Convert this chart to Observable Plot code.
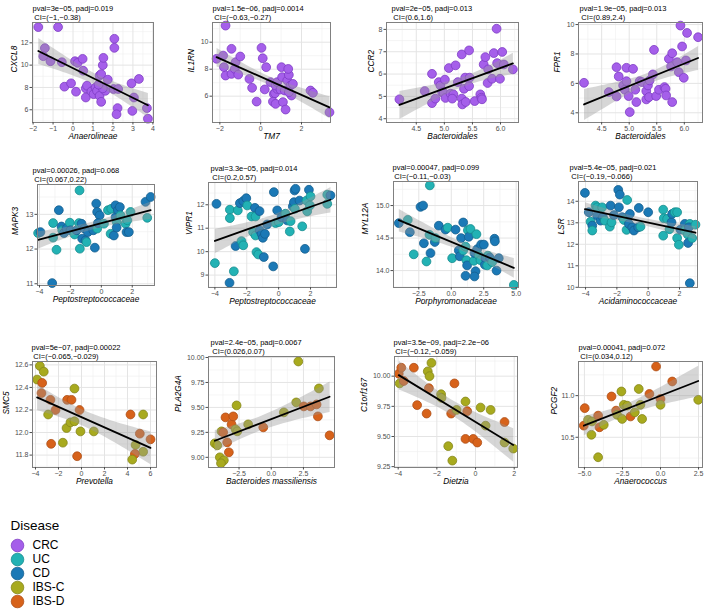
<!DOCTYPE html>
<html><head><meta charset="utf-8">
<script src="https://cdn.jsdelivr.net/npm/d3@7"></script>
<script src="https://cdn.jsdelivr.net/npm/@observablehq/plot@0.6"></script>
<style>
html,body{margin:0;padding:0;background:#fff;}
#chart{position:relative;width:706px;height:609px;overflow:hidden;background:#fff;}
#chart > svg{position:absolute;}
</style></head><body><div id="chart"></div>
<script>
const UC = "UC", CD = "CD", IC = "IBS-C", ID = "IBS-D";
const diseases = ["CRC", "UC", "CD", "IBS-C", "IBS-D"];
const genes = ["CXCL8","IL1RN","CCR2","FPR1","MAPK3","VIPR1","MYL12A","LSR","SMC5","PLA2G4A","C1orf167","PCGF2"];
const taxa = ["Anaerolineae","TM7","Bacteroidales","Bacteroidales","Peptostreptococcaceae","Peptostreptococcaceae","Porphyromonadaceae","Acidaminococcaceae","Prevotella","Bacteroides massiliensis","Dietzia","Anaerococcus"];
const pvalLabels = ["pval=3e\u221205, padj=0.019","pval=1.5e\u221206, padj=0.0014","pval=2e\u221205, padj=0.013","pval=1.9e\u221205, padj=0.013","pval=0.00026, padj=0.068","pval=3.3e\u221205, padj=0.014","pval=0.00047, padj=0.099","pval=5.4e\u221205, padj=0.021","pval=5e\u221207, padj=0.00022","pval=2.4e\u221205, padj=0.0067","pval=3.5e\u221209, padj=2.2e\u221206","pval=0.00041, padj=0.072"];
const ciLabels = ["CI=(\u22121,\u22120.38)","CI=(\u22120.63,\u22120.27)","CI=(0.6,1.6)","CI=(0.89,2.4)","CI=(0.067,0.22)","CI=(0.2,0.57)","CI=(\u22120.11,\u22120.03)","CI=(\u22120.19,\u22120.066)","CI=(\u22120.065,\u22120.029)","CI=(0.026,0.07)","CI=(\u22120.12,\u22120.059)","CI=(0.034,0.12)"];
const xTicks = [[-2,-1,0,1,2,3,4],[-2,0,2],[4.5,5,5.5,6],[4.5,5,5.5,6],[-4,-2,0,2],[-4,-2,0,2],[-2.5,0,2.5,5],[-4,-2,0,2],[-4,-2,0,2,4,6],[-2.5,0,2.5],[-4,-2,0,2],[-5,-2.5,0,2.5]];
const yTicks = [[6,8,10,12],[6,8,10],[4,5,6,7,8],[4,6,8,10],[11,12,13],[9,10,11,12],[14,14.5,15],[10,11,12,13,14],[11.8,12,12.2,12.4,12.6],[9,9.25,9.5,9.75,10],[9.25,9.5,9.75,10],[10.5,11]];

// panel 1 CXCL8 ~ Anaerolineae (CRC)
const xCXCL8 = [-1.74,-0.75,-1.41,-1.49,-1.13,-0.56,0.10,0.23,0.48,0.51,-0.43,-0.10,0.15,0.64,0.70,0.64,0.92,1.03,1.13,1.20,1.33,1.41,1.33,1.41,1.49,1.52,1.62,1.49,1.74,2.07,2.07,2.03,2.23,2.18,2.26,2.93,2.97,3.05,3.30,3.70,3.75,1.28];
const yCXCL8 = [13.41,13.41,11.52,10.80,10.35,10.26,10.35,10.20,10.56,9.50,8.07,8.37,7.62,7.92,8.16,7.10,7.65,7.40,8.00,7.70,7.25,6.71,9.06,9.20,10.00,10.65,7.70,7.92,8.70,12.36,11.55,7.86,6.15,5.60,7.86,8.37,5.90,7.10,8.76,6.15,5.20,8.25];
// panel 2 IL1RN ~ TM7 (CRC)
const xIL1RN = [-1.72,-2.16,-1.84,-1.80,-1.72,-1.43,-1.43,-1.23,-1.27,-1.10,-1.00,-0.55,-0.42,-0.20,0.04,0.10,0.27,0.20,0.48,0.64,0.60,0.73,0.70,0.81,0.73,0.81,1.02,1.05,1.09,1.22,0.97,1.18,1.30,1.38,1.35,1.46,1.51,1.58,1.38,2.44,2.56,3.37];
const yIL1RN = [11.23,8.77,9.01,8.15,7.53,9.51,7.65,8.52,8.02,7.60,8.94,7.28,6.62,5.60,9.58,8.81,8.15,6.50,7.04,6.17,5.60,5.43,6.22,6.54,6.79,7.04,8.15,7.41,5.56,5.01,6.49,6.42,7.16,7.58,8.02,6.79,6.05,6.91,6.30,6.42,6.25,4.81];
// panel 3 CCR2 ~ Bacteroidales (CRC)
const xCCR2 = [4.20,4.65,4.78,4.78,4.84,4.90,4.93,4.96,5.01,4.99,5.02,5.08,5.11,5.16,5.20,5.14,5.24,5.31,5.31,5.32,5.35,5.37,5.38,5.44,5.44,5.45,5.54,5.64,5.66,5.67,5.70,5.73,5.78,5.77,5.85,5.88,5.93,5.94,5.99,6.03,6.06,6.22];
const yCCR2 = [4.87,5.24,6.01,4.70,4.90,5.64,5.49,5.19,5.75,5.15,4.93,6.27,5.12,5.09,6.39,4.90,5.64,6.88,4.90,4.64,5.34,5.84,4.75,7.06,5.46,5.84,4.79,5.09,4.94,4.87,6.43,6.76,6.21,5.60,5.79,6.94,8.03,6.49,5.79,6.99,6.43,6.21];
// panel 4 FPR1 ~ Bacteroidales (CRC)
const xFPR1 = [4.18,4.63,4.77,4.77,4.81,4.89,4.92,4.95,4.95,4.99,5.01,5.07,5.11,5.13,5.19,5.23,5.31,5.34,5.31,5.36,5.37,5.43,5.45,5.49,5.54,5.64,5.66,5.67,5.72,5.78,5.76,5.78,5.87,5.90,5.93,5.96,5.99,6.05,6.03,6.25];
const yFPR1 = [6.04,5.41,5.11,7.10,6.47,5.86,5.57,6.15,7.06,5.14,4.05,6.99,5.57,4.73,6.15,6.09,5.48,5.86,4.91,5.07,6.20,6.61,8.28,5.14,5.57,5.75,5.63,5.18,7.67,8.05,7.15,4.73,7.44,6.76,9.93,8.51,6.38,9.43,7.56,9.14];
// panel 5 MAPK3 ~ Peptostreptococcaceae (UC/CD)
const xMAPK3 = [-4.09,-3.94,-3.12,-3.12,-2.90,-3.18,-2.75,-2.58,-2.53,-2.42,-2.25,-2.04,-2.00,-1.73,-1.60,-1.45,-1.41,-1.39,-1.28,-1.24,-1.09,-1.02,-0.96,-0.87,-0.52,-0.42,-0.33,-0.27,-0.11,-0.27,-0.22,0.17,0.43,0.64,0.60,0.81,0.92,0.92,0.99,0.99,1.07,1.20,1.24,1.57,1.63,1.78,1.68,1.89,2.86,3.19,2.97];
const yMAPK3 = [12.46,12.49,12.75,12.33,11.98,11.02,13.12,12.65,12.54,12.46,12.59,12.76,12.54,12.42,12.54,12.75,13.69,12.01,12.73,12.30,12.59,12.25,12.20,12.49,12.54,12.04,13.31,13.07,12.97,12.59,12.75,12.73,13.12,13.16,12.44,12.39,13.26,12.92,12.78,12.62,13.12,13.21,12.97,12.73,12.49,12.49,12.83,13.07,13.36,13.50,12.90];
const gMAPK3 = [UC,CD,UC,UC,UC,CD,CD,CD,UC,CD,CD,UC,CD,UC,CD,UC,UC,UC,CD,CD,CD,CD,UC,CD,CD,CD,CD,CD,CD,UC,CD,UC,UC,UC,UC,CD,CD,CD,UC,CD,CD,CD,UC,UC,CD,CD,UC,UC,CD,CD,UC];
// panel 6 VIPR1 ~ Peptostreptococcaceae (UC/CD)
const xVIPR1 = [-3.90,-4.00,-3.06,-3.06,-3.08,-2.81,-2.70,-2.56,-2.43,-2.33,-2.22,-2.22,-2.03,-1.97,-1.70,-1.49,-1.45,-1.60,-1.45,-1.39,-1.28,-1.20,-1.18,-1.07,-0.99,-0.86,-0.93,-0.72,-0.34,-0.30,-0.19,-0.09,0.01,0.18,0.43,0.54,0.75,0.70,0.89,0.96,1.00,1.06,1.02,1.31,1.48,1.65,1.79,1.75,1.90,1.96,2.00,3.05,3.25,3.05];
const yVIPR1 = [12.04,9.51,11.79,11.43,8.67,9.16,10.24,11.76,12.07,10.45,10.27,12.16,12.28,11.97,11.50,11.87,11.50,10.83,10.69,9.98,9.88,11.73,10.91,10.76,10.59,10.76,9.77,11.16,9.37,12.54,11.22,11.76,11.26,11.47,11.62,11.33,11.30,10.86,11.93,12.11,12.61,12.68,11.83,12.18,11.08,10.12,11.72,12.18,12.64,11.97,12.36,12.43,12.40,12.04];
const gVIPR1 = [CD,UC,UC,UC,CD,UC,CD,UC,CD,UC,UC,CD,CD,UC,UC,CD,UC,UC,UC,UC,UC,CD,CD,CD,CD,CD,CD,CD,CD,CD,UC,CD,UC,CD,UC,CD,UC,UC,CD,CD,CD,CD,UC,CD,UC,CD,UC,UC,CD,UC,UC,UC,CD,UC];
// panel 7 MYL12A ~ Porphyromonadaceae (UC/CD)
const xMYL12A = [-4.04,-3.35,-3.19,-2.89,-2.37,-2.17,-2.11,-1.91,-1.65,-1.68,-1.60,-1.27,-1.22,-0.96,-0.45,-0.27,0.07,0.33,0.58,0.66,0.76,0.92,0.92,1.10,1.10,1.17,1.22,1.28,1.35,1.48,1.74,1.79,1.87,1.79,1.94,2.00,2.12,2.25,2.30,2.51,2.59,2.64,2.77,2.82,2.97,3.15,3.33,3.36,3.49,3.66,4.82];
const yMYL12A = [14.73,14.78,14.59,14.25,14.98,15.00,14.42,14.14,15.31,14.55,14.27,14.44,14.50,14.69,14.63,14.66,14.19,14.63,14.31,14.22,14.50,14.74,14.31,13.92,14.37,14.16,14.08,14.62,14.52,14.64,14.15,14.27,13.99,13.91,14.56,14.33,14.23,14.16,14.40,14.40,14.09,14.19,14.08,14.23,14.20,14.13,14.49,14.45,14.00,14.19,13.78];
const gMYL12A = [CD,UC,CD,UC,CD,CD,CD,UC,UC,UC,CD,CD,UC,CD,CD,UC,UC,CD,CD,CD,CD,CD,UC,CD,UC,UC,CD,UC,CD,UC,UC,CD,CD,CD,UC,CD,UC,UC,CD,CD,CD,CD,UC,UC,CD,UC,CD,CD,CD,CD,UC];
// panel 8 LSR ~ Acidaminococcaceae (UC/CD)
const xLSR = [-4.04,-3.79,-3.68,-3.57,-3.57,-3.36,-3.26,-3.26,-3.04,-2.94,-2.89,-2.77,-2.45,-2.40,-2.34,-2.19,-1.91,-1.81,-1.87,-1.66,-1.55,-1.38,-1.34,-1.17,-1.23,-1.02,-0.91,-0.64,-0.49,-0.60,0.00,0.96,0.96,1.00,1.21,1.36,1.49,1.53,1.70,1.85,1.85,1.96,2.06,2.34,2.34,2.53,2.55,2.66,2.60,2.81,2.66,3.02];
const yLSR = [14.39,13.49,13.05,12.87,12.64,13.80,13.72,13.33,13.10,13.72,13.26,13.10,12.82,13.80,13.02,13.36,14.53,14.31,13.72,13.26,13.13,12.67,14.06,13.41,12.95,12.79,12.64,12.79,12.82,13.69,13.49,12.40,13.61,13.21,13.18,12.70,13.02,13.41,13.49,13.49,12.29,11.98,12.68,12.95,12.64,12.45,12.06,12.95,12.79,12.29,10.19,12.91];
const gLSR = [CD,CD,UC,CD,UC,UC,UC,CD,CD,UC,CD,UC,UC,CD,UC,CD,CD,CD,CD,CD,UC,UC,UC,CD,CD,CD,CD,CD,UC,CD,CD,UC,UC,UC,UC,UC,CD,CD,UC,UC,UC,UC,CD,CD,UC,UC,CD,UC,CD,UC,CD,UC];
// panel 9 SMC5 ~ Prevotella (IBS-C/IBS-D)
const xSMC5 = [-3.86,-3.62,-3.28,-3.42,-3.48,-2.70,-2.26,-2.90,-2.64,-1.62,-1.25,-0.87,-0.61,-1.30,-0.96,-0.61,-0.38,-0.17,-0.09,1.07,4.26,5.36,5.07,4.70,5.36,4.64,6.00,4.41];
const ySMC5 = [12.47,12.59,12.54,12.44,12.35,12.29,12.20,12.16,11.90,11.91,12.29,12.29,12.39,12.04,12.09,12.10,11.79,12.20,12.01,12.01,12.16,12.16,11.99,11.89,11.83,11.81,11.94,11.76];
const gSMC5 = [IC,IC,IC,ID,ID,ID,ID,IC,ID,IC,ID,ID,IC,IC,IC,IC,ID,ID,IC,IC,ID,IC,ID,IC,IC,ID,ID,IC];
// panel 10 PLA2G4A ~ Bacteroides massiliensis (IBS-C/IBS-D)
const xPLA2G4A = [-4.38,-4.19,-3.99,-3.86,-3.73,-3.55,-3.42,-3.29,-3.08,-2.95,-2.69,-2.77,-2.64,-1.79,-0.62,0.98,1.94,2.10,2.53,3.05,3.52,3.62,3.70,4.53,-3.68,-3.90];
const yPLA2G4A = [9.14,9.12,9.00,9.26,9.25,9.40,9.15,9.05,9.33,9.41,9.52,9.28,9.26,9.33,9.30,9.45,9.55,9.96,9.51,9.51,9.53,9.41,9.69,9.22,8.97,8.94];
const gPLA2G4A = [IC,IC,IC,IC,ID,ID,ID,ID,ID,ID,IC,IC,IC,IC,ID,IC,IC,IC,ID,ID,ID,ID,IC,ID,IC,IC];
// panel 11 C1orf167 ~ Dietzia (IBS-C/IBS-D)
const xC1orf167 = [-3.97,-3.92,-3.84,-3.71,-3.19,-3.02,-2.53,-2.47,-2.38,-2.41,-2.28,-1.78,-1.76,-1.41,-1.26,-1.09,-0.98,-0.52,-0.43,-0.52,-0.12,0.09,0.26,0.78,0.52,1.50,1.50,1.95,-1.20];
const yC1orf167 = [10.02,9.94,10.07,9.96,10.07,9.76,9.69,10.04,10.00,9.90,10.11,9.85,9.82,9.42,9.69,9.94,9.72,9.79,9.71,9.48,9.48,9.45,9.74,9.72,9.59,9.62,9.45,9.40,9.30];
const gC1orf167 = [ID,IC,ID,ID,ID,ID,ID,IC,IC,ID,IC,IC,IC,IC,ID,ID,IC,IC,ID,ID,ID,ID,IC,IC,IC,ID,IC,IC,IC];
// panel 12 PCGF2 ~ Anaerococcus (IBS-C/IBS-D)
const xPCGF2 = [-4.98,-5.04,-4.76,-4.54,-4.50,-4.10,-4.01,-3.73,-3.22,-2.92,-2.85,-2.57,-2.52,-2.41,-2.19,-1.97,-1.69,-1.43,-1.32,-1.21,-0.73,-0.29,0.00,0.00,0.77,2.48,-4.10];
const yPCGF2 = [10.85,10.64,10.71,10.53,10.69,10.76,10.62,10.65,10.99,10.82,10.77,11.05,10.72,10.89,10.88,10.75,10.80,11.08,10.89,10.72,11.02,11.35,10.96,10.89,11.17,10.95,10.26];
const gPCGF2 = [ID,ID,IC,IC,IC,ID,ID,IC,ID,ID,IC,IC,IC,IC,IC,ID,IC,IC,IC,IC,ID,ID,ID,IC,ID,IC,IC];

const series = [
  {x: xCXCL8, y: yCXCL8, g: null}, {x: xIL1RN, y: yIL1RN, g: null},
  {x: xCCR2, y: yCCR2, g: null}, {x: xFPR1, y: yFPR1, g: null},
  {x: xMAPK3, y: yMAPK3, g: gMAPK3}, {x: xVIPR1, y: yVIPR1, g: gVIPR1},
  {x: xMYL12A, y: yMYL12A, g: gMYL12A}, {x: xLSR, y: yLSR, g: gLSR},
  {x: xSMC5, y: ySMC5, g: gSMC5}, {x: xPLA2G4A, y: yPLA2G4A, g: gPLA2G4A},
  {x: xC1orf167, y: yC1orf167, g: gC1orf167}, {x: xPCGF2, y: yPCGF2, g: gPCGF2}
];

// layout: frame edges (px), scale domains, tick formats, text offsets
const layout = [
  {L:32, R:153, T:22, B:122, xd:[-2.03,4.03], yd:[4.86,13.82], xf:"d", yf:"d", tdx:0, ydx:-18},
  {L:212, R:330, T:22, B:122, xd:[-2.36,3.42], yd:[4.05,11.46], xf:"d", yf:"d", tdx:0, ydx:-21},
  {L:386, R:518, T:22, B:122, xd:[3.97,6.32], yd:[3.83,8.31], xf:".1f", yf:"d", tdx:5, ydx:-15},
  {L:578, R:702, T:22, B:122, xd:[4.08,6.33], yd:[3.34,10.14], xf:".1f", yf:"d", tdx:1, ydx:-21},
  {L:37, R:154, T:184, B:285, xd:[-4.13,3.44], yd:[10.95,13.86], xf:"d", yf:"d", tdx:-5, ydx:-22},
  {L:208, R:336, T:182, B:287, xd:[-4.4,3.63], yd:[8.47,12.95], xf:"d", yf:"d", tdx:2, ydx:-19},
  {L:393, R:518, T:181, B:287, xd:[-4.45,5.18], yd:[13.74,15.37], xf:".1f", yf:".1f", tdx:-1, ydx:-28},
  {L:578, R:697, T:181, B:287, xd:[-4.45,3.15], yd:[9.99,14.92], xf:"d", yf:"d", tdx:-9, ydx:-17},
  {L:32, R:156, T:361, B:467, xd:[-4.26,6.52], yd:[11.69,12.63], xf:"d", yf:".1f", tdx:-1, ydx:-26},
  {L:208, R:334, T:356, B:467, xd:[-4.87,4.91], yd:[8.898,10.01], xf:".1f", yf:".2f", tdx:2, ydx:-30},
  {L:394, R:517, T:356, B:467, xd:[-4.19,2.17], yd:[9.243,10.163], xf:"d", yf:".2f", tdx:-1, ydx:-30},
  {L:578, R:702, T:361, B:467, xd:[-5.39,2.76], yd:[10.137,11.41], xf:".1f", yf:".1f", tdx:0, ydx:-24}
];

const fills = {"CRC":"#a55fea","UC":"#22b2b4","CD":"#1b79b6","IBS-C":"#a8aa1e","IBS-D":"#d7621a"};
const strokes = {"CRC":"#7e3cc4","UC":"#178c8e","CD":"#145e8e","IBS-C":"#85871a","IBS-D":"#ad4e16"};
const FONT = '"Liberation Sans", Arial, Helvetica, sans-serif';
const chart = document.getElementById("chart");

function minorTicks(t, d) {
  const st = t[1] - t[0], out = [];
  for (let v = t[0] - st * Math.ceil((t[0] - d[0]) / st) - st / 2; v <= d[1]; v += st) if (v >= d[0]) out.push(v);
  return out;
}

series.forEach((s, i) => {
  const lay = layout[i];
  const rows = s.x.map((x, j) => ({x, y: s.y[j], g: s.g ? s.g[j] : "CRC"}));
  const mL = Math.min(46, lay.L), mT = 26, mR = 8, mB = 26;
  const xt = xTicks[i], yt = yTicks[i];
  const svg = Plot.plot({
    width: lay.R - lay.L + mL + mR,
    height: lay.B - lay.T + mT + mB,
    marginLeft: mL, marginRight: mR, marginTop: mT, marginBottom: mB,
    style: {background: "transparent", overflow: "visible", fontFamily: FONT, fontSize: "7px", color: "#4d4d4d"},
    x: {domain: lay.xd},
    y: {domain: lay.yd},
    color: {type: "identity"},
    marks: [
      Plot.gridX(minorTicks(xt, lay.xd), {stroke: "#efefef", strokeOpacity: 1, strokeWidth: 0.6}),
      Plot.gridY(minorTicks(yt, lay.yd), {stroke: "#efefef", strokeOpacity: 1, strokeWidth: 0.6}),
      Plot.gridX(xt, {stroke: "#e4e4e4", strokeOpacity: 1, strokeWidth: 1}),
      Plot.gridY(yt, {stroke: "#e4e4e4", strokeOpacity: 1, strokeWidth: 1}),
      Plot.dot(rows, {x: "x", y: "y", r: 4.4, fill: d => fills[d.g], stroke: d => strokes[d.g], strokeWidth: 0.8}),
      Plot.linearRegressionY(rows, {x: "x", y: "y", stroke: "#000", strokeWidth: 1.8, fill: "#999", fillOpacity: 0.4}),
      Plot.frame({stroke: "#808080", strokeWidth: 1}),
      Plot.axisX(xt, {tickFormat: d3.format(lay.xf), tickSize: 2.5, tickPadding: 1, label: null, fontSize: 7}),
      Plot.axisY(yt, {tickFormat: d3.format(lay.yf), tickSize: 2.5, tickPadding: 1.5, label: null, fontSize: 7}),
      Plot.text([pvalLabels[i]], {frameAnchor: "top-left", textAnchor: "start", dx: lay.tdx, dy: -17, fontSize: 7.5, fill: "#000"}),
      Plot.text([ciLabels[i]], {frameAnchor: "top-left", textAnchor: "start", dx: lay.tdx + 1.8, dy: -7.8, fontSize: 7.5, fill: "#000"}),
      Plot.text([taxa[i]], {frameAnchor: "bottom", dy: 16.5, fontSize: 8.3, fontStyle: "italic", fill: "#000"}),
      Plot.text([genes[i]], {frameAnchor: "left", dx: lay.ydx, rotate: -90, fontSize: 8.3, fontStyle: "italic", fill: "#000"})
    ]
  });
  svg.style.left = (lay.L - mL) + "px";
  svg.style.top = (lay.T - mT) + "px";
  chart.appendChild(svg);
});

const legend = Plot.plot({
  width: 110, height: 104, margin: 0,
  style: {background: "transparent", overflow: "visible", fontFamily: FONT},
  y: {type: "point", domain: diseases, range: [39, 96], padding: 0, axis: null},
  color: {type: "identity"},
  marks: [
    Plot.dot(diseases, {y: d => d, frameAnchor: "left", dx: 17, r: 6.3, fill: d => fills[d], stroke: d => strokes[d], strokeWidth: 0.8}),
    Plot.text(diseases, {y: d => d, frameAnchor: "left", dx: 32, textAnchor: "start", fontSize: 12, fill: "#000"}),
    Plot.text(["Disease"], {frameAnchor: "top-left", dx: 10, dy: 15, textAnchor: "start", fontSize: 13.5, fill: "#000"})
  ]
});
legend.style.left = "0px";
legend.style.top = "505px";
chart.appendChild(legend);
</script></body></html>
